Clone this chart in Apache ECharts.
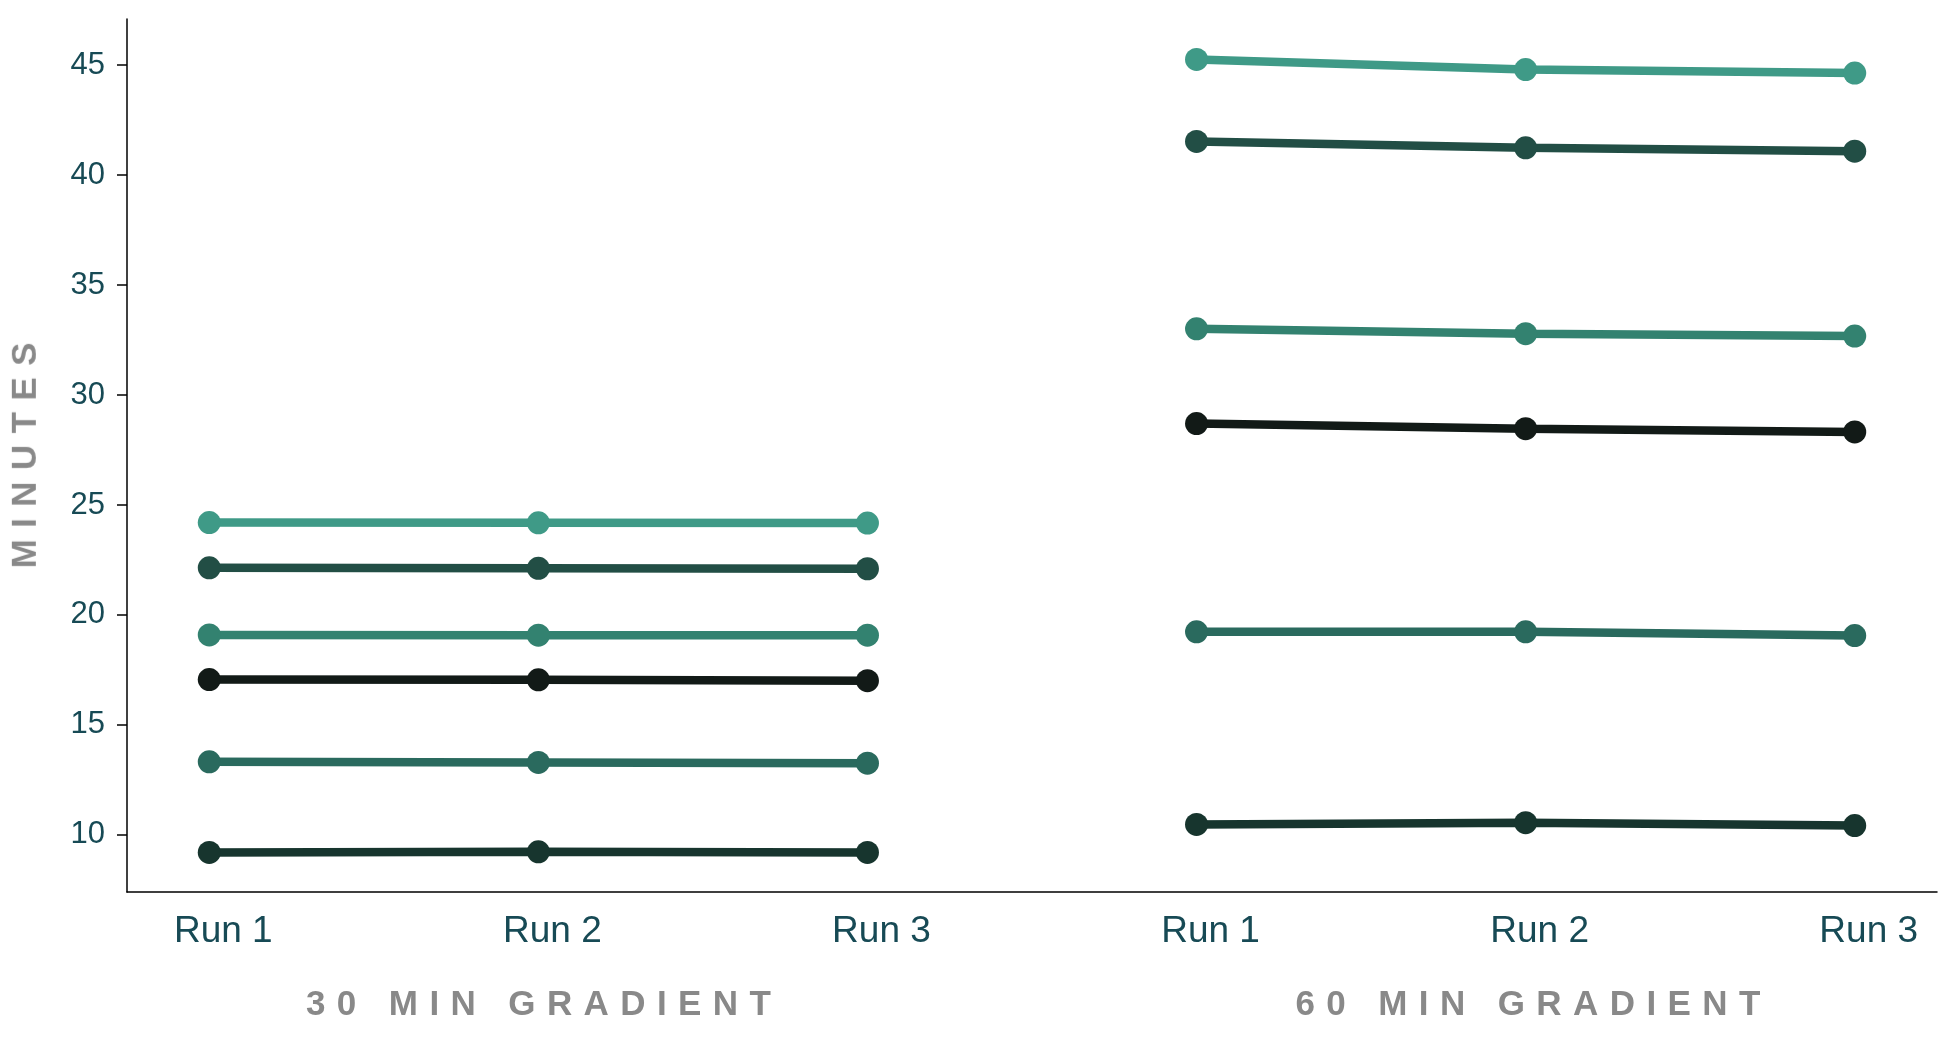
<!DOCTYPE html>
<html>
<head>
<meta charset="utf-8">
<script src="https://cdn.jsdelivr.net/npm/echarts@6/dist/echarts.min.js"></script>
<style>
  html, body { margin: 0; padding: 0; background: #ffffff; }
  #wrap { position: relative; width: 1956px; height: 1038px; }
  #chart { position: absolute; left: 0; top: 0; width: 1956px; height: 1038px; }
  .spaced {
    position: absolute;
    font-family: "Liberation Sans", Arial, Helvetica, sans-serif;
    font-weight: bold;
    font-size: 35px;
    line-height: 35px;
    letter-spacing: 11.4px;
    color: #898989;
    white-space: nowrap;
  }
</style>
</head>
<body>
<div id="wrap">
  <div id="chart"></div>
</div>
<script>
// ---- data ----
const runs = ['Run 1', 'Run 2', 'Run 3'];
const groups = ['30 MIN GRADIENT', '60 MIN GRADIENT'];
const yAxisTitle = 'MINUTES';
const yTicks = [10, 15, 20, 25, 30, 35, 40, 45];

// six traces per gradient, top to bottom
const grad30_s1 = [24.20, 24.19, 24.18];
const grad30_s2 = [22.14, 22.12, 22.10];
const grad30_s3 = [19.09, 19.08, 19.08];
const grad30_s4 = [17.06, 17.05, 17.01];
const grad30_s5 = [13.32, 13.29, 13.26];
const grad30_s6 = [9.20, 9.23, 9.20];

const grad60_s1 = [45.26, 44.80, 44.64];
const grad60_s2 = [41.53, 41.24, 41.09];
const grad60_s3 = [33.01, 32.79, 32.68];
const grad60_s4 = [28.70, 28.47, 28.32];
const grad60_s5 = [19.23, 19.23, 19.06];
const grad60_s6 = [10.47, 10.55, 10.42];

const traceColors = ['#3f9a87', '#224e45', '#338270', '#121a17', '#2a6a5e', '#17352e'];

// ---- build ----
const groupData = [
  [grad30_s1, grad30_s2, grad30_s3, grad30_s4, grad30_s5, grad30_s6],
  [grad60_s1, grad60_s2, grad60_s3, grad60_s4, grad60_s5, grad60_s6]
];
const xLabels = [];
groups.forEach(() => runs.forEach(r => xLabels.push(r)));
const xPositions = xLabels.map((_, i) => i);

const series = [];
groupData.forEach((traces, g) => {
  traces.forEach((vals, k) => {
    series.push({
      name: groups[g] + ' ' + (k + 1),
      type: 'line',
      data: vals.map((v, r) => [g * runs.length + r, v]),
      symbol: 'circle',
      symbolSize: 23,
      showSymbol: true,
      lineStyle: { width: 8.5, color: traceColors[k] },
      itemStyle: { color: traceColors[k] },
      emphasis: { disabled: true },
      animation: false,
      z: 2
    });
  });
});

const labelColor = '#174a55';
const chart = echarts.init(document.getElementById('chart'), null, { renderer: 'canvas' });
chart.setOption({
  backgroundColor: '#ffffff',
  animation: false,
  grid: { left: 127, right: 19, top: 19, bottom: 146, containLabel: false },
  xAxis: {
    type: 'value',
    min: -0.25,
    max: xPositions.length - 0.75,
    axisLine: { show: true, onZero: false, lineStyle: { color: '#000000', width: 1.5 } },
    axisTick: { show: false },
    splitLine: { show: false },
    axisLabel: {
      customValues: xPositions,
      formatter: v => xLabels[Math.round(v)],
      color: labelColor,
      fontFamily: 'Liberation Sans, Arial, Helvetica, sans-serif',
      fontSize: 37,
      margin: 21,
      padding: [0, 0, 0, 28],
      showMinLabel: true,
      showMaxLabel: true
    }
  },
  yAxis: {
    type: 'value',
    min: 7.4,
    max: 47.1,
    axisLine: { show: true, onZero: false, lineStyle: { color: '#000000', width: 1.5 } },
    axisTick: { show: true, customValues: yTicks, length: 10, lineStyle: { color: '#000000', width: 1.5 } },
    splitLine: { show: false },
    axisLabel: {
      customValues: yTicks,
      color: labelColor,
      fontFamily: 'Liberation Sans, Arial, Helvetica, sans-serif',
      fontSize: 31,
      margin: 22
    }
  },
  series: series
});

// letter-spaced titles (real text)
const wrap = document.getElementById('wrap');
const groupCentersPx = [538.6, 1528];
groups.forEach((t, i) => {
  const d = document.createElement('div');
  d.className = 'spaced';
  d.textContent = t;
  d.style.paddingLeft = '11.4px';
  d.style.top = '985px';
  wrap.appendChild(d);
  const w = d.offsetWidth;
  d.style.left = (groupCentersPx[i] - w / 2) + 'px';
});
const yt = document.createElement('div');
yt.className = 'spaced';
yt.textContent = yAxisTitle;
yt.style.paddingLeft = '11.4px';
wrap.appendChild(yt);
const yw = yt.offsetWidth, yh = yt.offsetHeight;
yt.style.left = (23.5 - yw / 2) + 'px';
yt.style.top = (455.5 - yh / 2) + 'px';
yt.style.transform = 'rotate(-90deg)';
</script>
</body>
</html>
